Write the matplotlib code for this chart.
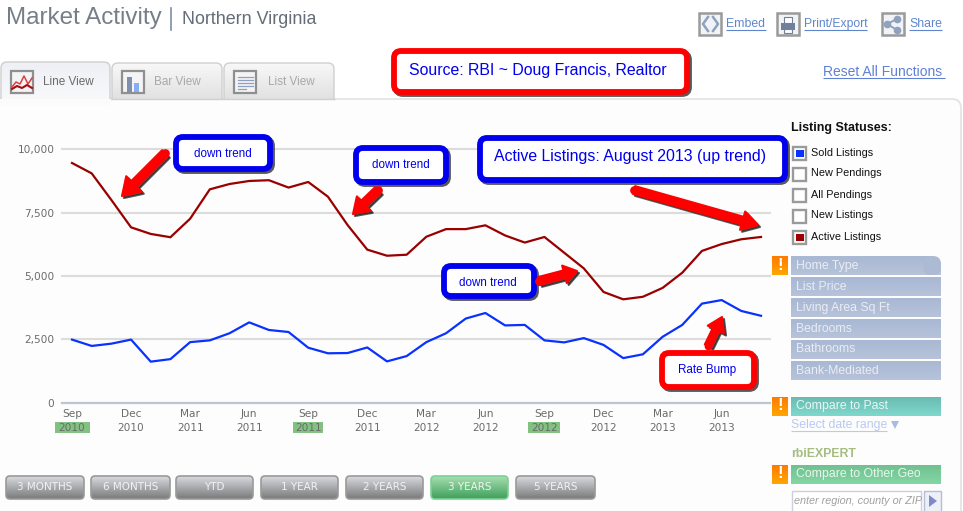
import numpy as np
import matplotlib
matplotlib.use("Agg")
import matplotlib.pyplot as plt
from matplotlib.patches import FancyBboxPatch, Rectangle, Polygon
from matplotlib.colors import LinearSegmentedColormap
from matplotlib.ticker import FuncFormatter

months = ["Sep", "Oct", "Nov", "Dec", "Jan", "Feb", "Mar", "Apr", "May", "Jun", "Jul", "Aug"] * 3
years = [2010] * 4 + [2011] * 12 + [2012] * 12 + [2013] * 8
active_listings = [9460, 9050, 8000, 6920, 6660, 6530, 7260, 8420, 8630, 8750, 8780, 8490,
                   8710, 8130, 7010, 6040, 5800, 5840, 6550, 6850, 6850, 7000, 6600, 6320,
                   6540, 5920, 5300, 4370, 4080, 4180, 4530, 5130, 5990, 6260, 6450, 6540]
sold_listings = [2490, 2240, 2330, 2490, 1620, 1720, 2390, 2460, 2740, 3170, 2870, 2790,
                 2170, 1950, 1960, 2180, 1630, 1840, 2390, 2740, 3320, 3540, 3050, 3070,
                 2460, 2380, 2550, 2280, 1760, 1910, 2600, 3070, 3910, 4050, 3620, 3430]
y_ticks = [0, 2500, 5000, 7500, 10000]
status_labels = ["Sold Listings", "New Pendings", "All Pendings", "New Listings", "Active Listings"]
filter_labels = ["Home Type", "List Price", "Living Area Sq Ft", "Bedrooms", "Bathrooms", "Bank-Mediated"]
range_labels = ["3 MONTHS", "6 MONTHS", "YTD", "1 YEAR", "2 YEARS", "3 YEARS", "5 YEARS"]

W, H = 963, 511
SANS = "Liberation Sans"
fig = plt.figure(figsize=(W / 100, H / 100), dpi=100, facecolor="white")


def overlay(z):
    a = fig.add_axes([0, 0, 1, 1], zorder=z)
    a.set_xlim(0, W)
    a.set_ylim(H, 0)
    a.axis("off")
    a.patch.set_alpha(0)
    return a


bg = overlay(0)
fg = overlay(3)


def grad_box(ax, x0, y0, x1, y1, top, bottom, r=0, edge=None, lw=0, z=2):
    cmap = LinearSegmentedColormap.from_list("g", [top, bottom])
    im = ax.imshow(np.linspace(0, 1, 64)[:, None], extent=(x0, x1, y1, y0), cmap=cmap,
                   aspect="auto", zorder=z, interpolation="bilinear")
    clip = FancyBboxPatch((x0 + r, y0 + r), x1 - x0 - 2 * r, y1 - y0 - 2 * r,
                          boxstyle=f"round,pad={r},rounding_size={r}", fc="none",
                          ec=edge if edge else "none", lw=lw, zorder=z + 0.1)
    ax.add_patch(clip)
    im.set_clip_path(clip)
    ax.set_xlim(0, W)
    ax.set_ylim(H, 0)


def underlined(ax, x0, x1, y, s, color, fs):
    ax.text(x0, y, s, color=color, fontsize=fs, family=SANS, va="center", ha="left", zorder=6)
    ax.plot([x0, x1], [y + 6, y + 6], color=color, lw=0.8, zorder=6, solid_capstyle="butt")


def callout(x0, y0, x1, y1, edge, s, fs, tx=None, ty=None, ha="center"):
    b = 3
    R = 7
    fg.add_patch(FancyBboxPatch((x0 + b + R + 2, y0 + b + R + 2), x1 - x0 - 2 * b - 2 * R, y1 - y0 - 2 * b - 2 * R,
                                boxstyle=f"round,pad={R},rounding_size={R}", fc="#222222", ec="#222222",
                                lw=4.2, alpha=0.75, zorder=7))
    fg.add_patch(FancyBboxPatch((x0 + b + R, y0 + b + R), x1 - x0 - 2 * b - 2 * R, y1 - y0 - 2 * b - 2 * R,
                                boxstyle=f"round,pad={R},rounding_size={R}", fc="white", ec=edge,
                                lw=4.2, zorder=8))
    fg.text((x0 + x1) / 2 if tx is None else tx, (y0 + y1) / 2 if ty is None else ty, s,
            color="#0000ee", fontsize=fs, family=SANS, ha=ha, va="center", zorder=9)


def arrow(tail, tip, tw=7, hw=20, hl=16):
    tail, tip = np.array(tail, float), np.array(tip, float)
    d = tip - tail
    L = np.hypot(*d)
    u = d / L
    n = np.array([-u[1], u[0]])
    nk = tip - u * hl
    pts = [tail + n * tw / 2, nk + n * tw / 2, nk + n * hw / 2, tip,
           nk - n * hw / 2, nk - n * tw / 2, tail - n * tw / 2]
    pts = np.array(pts)
    fg.add_patch(Polygon(pts + 2, closed=True, fc="#222222", ec="#222222", lw=1.5, alpha=0.75,
                         joinstyle="round", zorder=7))
    fg.add_patch(Polygon(pts, closed=True, fc="#ff0000", ec="#ff0000", lw=1.5,
                         joinstyle="round", zorder=8))
    fg.plot(*tail, "o", ms=tw * 0.72 + 0.5, color="#ff0000", mew=0, zorder=8)


# ---------- page background ----------
bg.add_patch(FancyBboxPatch((-20, 99), W + 20 - 2, 440, boxstyle="round,pad=0,rounding_size=9",
                            fc="#fdfdfd", ec="#e2e2e2", lw=1.2, zorder=1))

# tabs
for (x0, x1, y0, top, bot, lab, col, tx) in [
    (112, 222, 63, "#f8f8f8", "#dedede", "Bar View", "#a8a8a8", 154),
    (224, 334, 63, "#f8f8f8", "#dedede", "List View", "#a8a8a8", 268),
    (1, 110, 62, "#eef0f5", "#fafafb", "Line View", "#6a6a6a", 43),
]:
    grad_box(bg, x0, y0, x1, 104, top, bot, r=6, edge="#cfcfcf", lw=1, z=2)
    bg.text(tx, 82, lab, color=col, fontsize=8.5, family=SANS, va="center", zorder=4)
bg.add_patch(Rectangle((112, 99), 222, 6, fc="#fdfdfd", ec="none", zorder=3))
bg.add_patch(Rectangle((0, 99), 111, 6, fc="#fbfbfc", ec="none", zorder=3))
bg.plot([112, 334], [99, 99], color="#d0d0d0", lw=1, zorder=3.5)

# tab icons
for x0 in (10, 121, 233):
    bg.add_patch(Rectangle((x0 + 1, 71), 22, 22, fc="#f4f4f6", ec="#8f8f8f", lw=1.6, zorder=4))
bg.plot([12, 16, 20, 24, 28, 32], [87, 82, 84, 76, 84, 78], color="#d94040", lw=1.1, zorder=5)
bg.plot([12, 17, 22, 27, 32], [89, 86, 88, 85, 88], color="#a01010", lw=1.5, zorder=5)
bg.add_patch(Rectangle((127, 77), 5, 15, fc="#7f8fb0", ec="none", zorder=5))
bg.add_patch(Rectangle((134, 83), 5, 9, fc="#86aef0", ec="none", zorder=5))
for yy in (77, 80, 83, 86, 89):
    bg.plot([238, 253 if yy != 89 else 246], [yy, yy], color="#8f9fc0", lw=0.9, zorder=5)

# ---------- heading ----------
bg.text(6, 18, "Market Activity", color="#767e88", fontsize=17.4, family=SANS, va="center", zorder=5)
bg.plot([171, 171], [8, 30], color="#7f8fa5", lw=1.2, zorder=5)
bg.text(182, 19.5, "Northern Virginia", color="#646d78", fontsize=12.9, family=SANS, va="center", zorder=5)

# top links
LINK = "#5f86cc"
for x0 in (698, 776, 881):
    bg.add_patch(Rectangle((x0 + 1, 13), 22, 22, fc="#f2f3f6", ec="#9a9a9a", lw=1.8, zorder=4))
bg.plot([708, 703, 708], [17, 24, 31], color="#8ea2c0", lw=1.8, zorder=5)
bg.plot([713, 718, 713], [17, 24, 31], color="#8ea2c0", lw=1.8, zorder=5)
bg.add_patch(Rectangle((781, 23), 14, 7, fc="#6f7f9c", ec="none", zorder=5))
bg.add_patch(Rectangle((784, 17), 8, 6, fc="white", ec="#6f7f9c", lw=0.8, zorder=5))
bg.add_patch(Rectangle((784, 29), 8, 4, fc="white", ec="#6f7f9c", lw=0.8, zorder=5))
bg.plot([897, 887, 897], [19, 24, 30], color="#8ea2c0", lw=1.4, marker="o", ms=4.5, zorder=5)
underlined(bg, 726, 766, 24, "Embed", LINK, 8.8)
underlined(bg, 804, 867, 24, "Print/Export", LINK, 8.7)
underlined(bg, 909, 942, 24, "Share", LINK, 8.8)
underlined(bg, 823, 945, 72, "Reset All Functions", "#5f80d4", 10)

# ---------- chart ----------
px_per_month = 19.686
x0_month = (62 - 72) / px_per_month
x1_month = (770 - 72) / px_per_month
ax = fig.add_axes([62 / W, 1 - 402.7 / H, (770 - 62) / W, 253.4 / H], zorder=1)
ax.patch.set_alpha(0)
idx = np.arange(len(months))
ax.set_xlim(x0_month, x1_month)
ax.set_ylim(0, 10000)
ax.set_yticks(y_ticks)
ax.yaxis.set_major_formatter(FuncFormatter(lambda v, _: f"{int(v):,}"))
ticks = idx[::3]
ax.set_xticks(ticks)
ax.set_xticklabels([f"{months[i]}\n{years[i]}" for i in ticks], linespacing=1.45)
ax.tick_params(axis="both", length=0, labelsize=7.6, labelcolor="#6b6b6b")
ax.tick_params(axis="y", pad=5.5)
ax.tick_params(axis="x", pad=4.5)
ax.grid(axis="y", color="#dcdcdc", lw=1.5, clip_on=False)
ax.set_axisbelow("line")
for s in ("top", "left", "right"):
    ax.spines[s].set_visible(False)
ax.spines["bottom"].set_color("#bcc6d0")
ax.spines["bottom"].set_linewidth(1.6)
ax.plot(idx, active_listings, color="#990000", lw=1.6, solid_joinstyle="round", zorder=3)
ax.plot(idx, sold_listings, color="#0a32ff", lw=1.6, solid_joinstyle="round", zorder=3)
trans = ax.get_xaxis_transform()
for i, w in ((0, 35), (12, 30), (24, 32)):
    ax.add_patch(Rectangle((i - w / 2 / px_per_month, -0.078), w / px_per_month, -0.043, transform=trans,
                           fc="#82c182", ec="none", clip_on=False, zorder=1))

# ---------- callouts ----------
callout(391, 48, 690, 95, "#ff0000", "Source: RBI ~ Doug Francis, Realtor", 11.45, tx=409, ty=71, ha="left")
callout(173, 134, 273, 172, "#0000ee", "down trend", 8.4, ty=154)
callout(353, 145, 449, 185, "#0000ee", "down trend", 8.4, tx=400.5, ty=165)
callout(441, 263, 537, 299, "#0000ee", "down trend", 8.4, tx=488, ty=283)
callout(477, 135, 788, 183, "#0000ee", "Active Listings: August 2013 (up trend)", 11.45, tx=494, ty=157, ha="left")
callout(659, 350, 757, 390, "#ff0000", "Rate Bump", 8.4, tx=707, ty=370)
arrow((165, 153), (122, 196), tw=8, hw=22, hl=17)
arrow((378, 190), (353, 214), tw=8, hw=20, hl=15)
arrow((539, 281), (577, 271), tw=8, hw=18, hl=13)
arrow((634, 190), (758, 225), tw=8, hw=19, hl=16)
arrow((708, 346), (722, 317), tw=7, hw=18, hl=14)

# ---------- status list ----------
fg.text(791, 128, "Listing Statuses:", color="#111111", fontsize=9, weight="bold", family=SANS, va="center")
swatches = ["#0a32ff", None, None, None, "#990000"]
for k, (lab, sw) in enumerate(zip(status_labels, swatches)):
    y = 146 + 21 * k
    fg.add_patch(Rectangle((793, y + 1), 13, 13, fc="white", ec="#9a9a9a", lw=1.7, zorder=5))
    if sw:
        fg.add_patch(Rectangle((796, y + 4), 7.5, 7.5, fc=sw, ec="none", zorder=6))
    fg.text(811, y + 6.5, lab, color="#111111", fontsize=7.8, family=SANS, va="center", zorder=6)

# filter bars
for k, lab in enumerate(filter_labels):
    y = 256 + 21 * k
    if k == 0:
        grad_box(fg, 791, y, 941, y + 19, "#a9b8d3", "#b6c3da", r=0, z=2)
        fg.add_patch(Rectangle((932, y - 0.5), 10, 8, fc="#fdfdfd", ec="none", zorder=3))
        fg.add_patch(FancyBboxPatch((923, y), 18, 19, boxstyle="round,pad=0,rounding_size=8",
                                    fc="#acbad4", ec="none", zorder=3.2))
    else:
        grad_box(fg, 791, y, 941, y + 19, "#a9b8d3", "#b6c3da", z=2)
    fg.text(796, y + 9.5, lab, color="#e9edf5", fontsize=8.8, family=SANS, va="center", zorder=5)

# orange warning flags
for y in (256, 397, 465):
    grad_box(fg, 772, y, 788, y + 19, "#ff7a00", "#ffa600", z=2)
    fg.text(780, y + 9, "!", color="white", fontsize=12, weight="bold", family=SANS,
            ha="center", va="center", zorder=5)

grad_box(fg, 791, 397, 941, 416, "#69bcb2", "#80d8cd", z=2)
fg.text(796, 406, "Compare to Past", color="#e9f6f4", fontsize=8.8, family=SANS, va="center", zorder=5)
underlined(fg, 791, 887, 425, "Select date range", "#b9c9f0", 8.8)
fg.add_patch(Polygon([[891, 421], [899, 421], [895, 429]], closed=True, fc="#a9bbe0", ec="none", zorder=5))
fg.text(791, 454, "rbiEXPERT", color="#a5bd80", fontsize=8.8, weight="bold", family=SANS, va="center", zorder=5)
grad_box(fg, 791, 465, 941, 484, "#70c190", "#84d6a4", z=2)
fg.text(796, 474, "Compare to Other Geo", color="#e9f6ee", fontsize=8.8, family=SANS, va="center", zorder=5)
fg.add_patch(Rectangle((791.5, 491), 129, 22, fc="white", ec="#cfcfdc", lw=1, zorder=3))
txt = fg.text(794, 501, "enter region, county or ZIP", color="#a0a0a0", fontsize=7.8, style="italic",
              family=SANS, va="center", zorder=5)
txt.set_clip_path(Rectangle((792, 491), 127, 20, transform=fg.transData))
fg.add_patch(Rectangle((924, 491), 17, 22, fc="#eef0f8", ec="#b6bdd8", lw=1, zorder=3))
fg.add_patch(Polygon([[929, 495], [929, 507], [937, 501]], closed=True, fc="#8088cc", ec="none", zorder=5))

# range buttons
spans = [(6, 84), (91, 170), (176, 253), (261, 338), (346, 423), (431, 508), (516, 595)]
for (x0, x1), lab in zip(spans, range_labels):
    green = lab == "3 YEARS"
    top, bot = ("#a6dfb0", "#3f9f5c") if green else ("#d8dae0", "#7a7a7a")
    grad_box(fg, x0, 476, x1, 499, top, bot, r=4, edge="#7fcf95" if green else "#9a9a9a", lw=1.2, z=2)
    fg.text((x0 + x1) / 2, 487.5, lab, color="#f2f2f2", fontsize=7.5, family="DejaVu Sans",
            ha="center", va="center", zorder=5)

fig.savefig("out.png", dpi=100, facecolor="white")
